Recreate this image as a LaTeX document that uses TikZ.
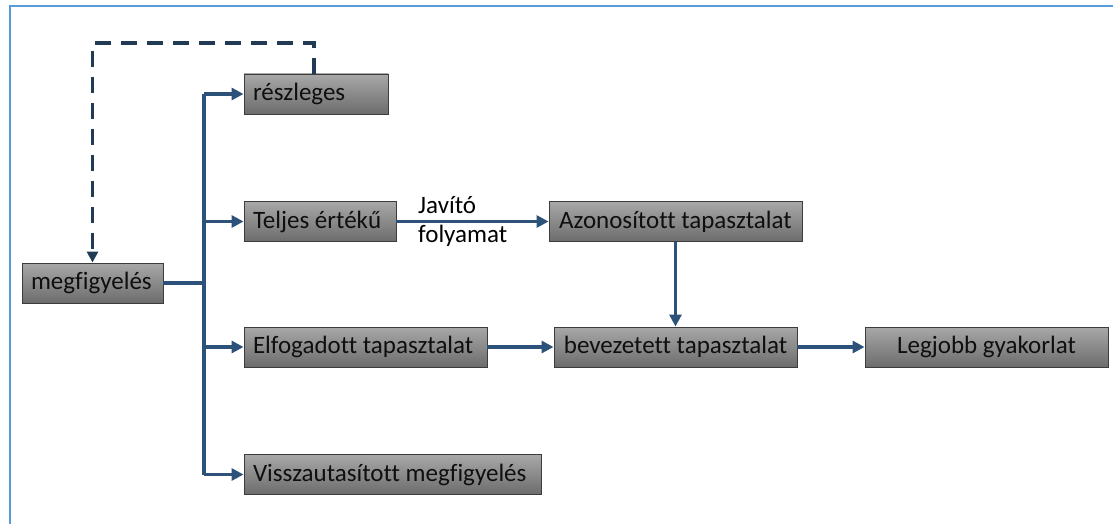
\documentclass[tikz,border=0pt]{standalone}
\usepackage{fontspec}
\setmainfont{Carlito}[Ligatures=NoCommon]
\usetikzlibrary{arrows.meta}
\definecolor{conncol}{RGB}{44,82,122}
\definecolor{dashcol}{RGB}{33,58,86}
\definecolor{framecol}{RGB}{91,155,213}
\definecolor{boxtop}{RGB}{168,168,168}
\definecolor{boxbot}{RGB}{108,108,108}
\definecolor{boxline}{RGB}{60,60,60}
\definecolor{txtcol}{RGB}{15,15,15}
\newcommand{\lefttext}[2]{\makebox[#1][l]{#2}}
\tikzset{
  boxbase/.style={draw=boxline, line width=0.9pt, top color=boxtop, bottom color=boxbot,
    minimum height=40pt, inner xsep=9pt, inner ysep=0pt, text=txtcol,
    font=\fontsize{25}{28}\selectfont},
  conn/.style={draw=conncol, line width=3.6pt},
  arr/.style={conn, -{Triangle[length=12pt,width=12pt]}},
  dashline/.style={draw=dashcol, line width=3.6pt, dash pattern=on 16pt off 10pt,
    -{Triangle[length=11pt,width=11pt]}},
  lbl/.style={font=\fontsize{25}{28}\selectfont, text=black, inner sep=0pt, anchor=west}
}
\begin{document}
\begin{tikzpicture}[x=1pt,y=-1pt]
\useasboundingbox (0,0) rectangle (1113,524);
% frame
\draw[framecol, line width=2.2pt] (10,524) -- (10,6) -- (1113,6);
% nodes
\node[boxbase] (m) at (92.5,283) {\lefttext{123pt}{megfigyelés}};
\node[boxbase] (r) at (316,94) {\lefttext{126pt}{részleges}};
\node[boxbase] (t) at (320,221.5) {\lefttext{134pt}{Teljes értékű}};
\node[boxbase] (e) at (365.5,347) {\lefttext{225pt}{Elfogadott tapasztalat}};
\node[boxbase] (v) at (392.5,474.5) {\lefttext{279pt}{Visszautasított megfigyelés}};
\node[boxbase, minimum width=253pt] (a) at (675.5,221.5) {Azonosított tapasztalat};
\node[boxbase, minimum width=243pt] (b) at (675.5,347) {bevezetett tapasztalat};
\node[boxbase, minimum width=243pt] (l) at (986.5,347) {Legjobb gyakorlat};
% labels
\node[lbl] (j1) at (418,205) {Javító};
\node[lbl] (j2) at (418,236) {folyamat};
% trunk
\coordinate (ttop) at (204,94);
\coordinate (tbot) at (204,474.5);
\draw[conn] (ttop) -- (tbot);
\draw[conn] (m.east) -- (m.east -| ttop);
\draw[arr] (ttop) -- (r.west);
\draw[arr] (ttop |- t.west) -- (t.west);
\draw[arr] (ttop |- e.west) -- (e.west);
\draw[arr] (tbot) -- (v.west);
% main flow
\draw[arr] (t.east) -- (a.west);
\draw[arr] (a.south) -- (b.north);
\draw[arr] (e.east) -- (b.west);
\draw[arr] (b.east) -- (l.west);
% dashed feedback
\coordinate (dtop) at (92,43);
\draw[dashline] ([xshift=-2pt]r.north) |- (m.north |- dtop) -- (m.north);
\end{tikzpicture}
\end{document}
